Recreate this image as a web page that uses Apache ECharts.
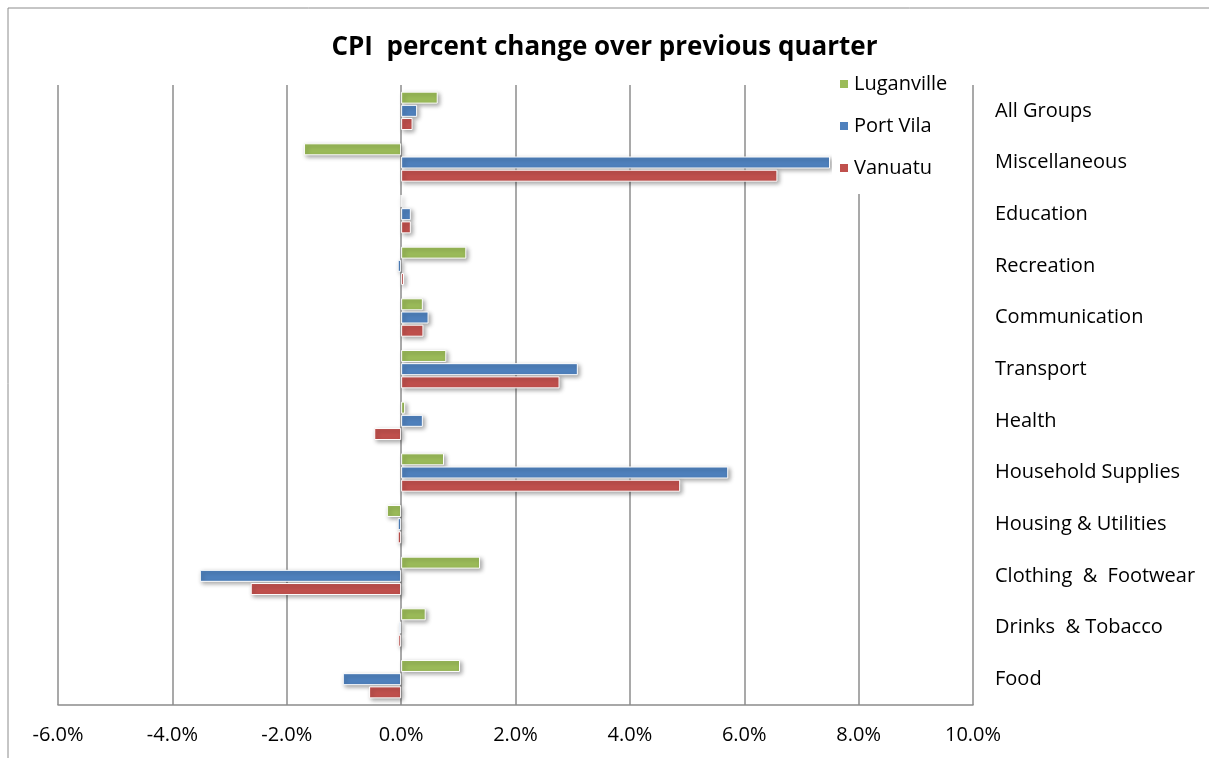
<!DOCTYPE html>
<html><head><meta charset="utf-8">
<script src="https://cdn.jsdelivr.net/npm/echarts@6/dist/echarts.min.js"></script>
<style>html,body{margin:0;padding:0;background:#fff}#c{width:1209px;height:758px}</style>
</head><body><div id="c"></div>
<script>
const categories = ["Food","Drinks  & Tobacco","Clothing  &  Footwear","Housing & Utilities","Household Supplies","Health","Transport","Communication","Recreation","Education","Miscellaneous","All Groups"];
const luganville = [1.03, 0.43, 1.38, -0.25, 0.75, 0.07, 0.79, 0.38, 1.14, 0.0, -1.70, 0.64];
const portVila   = [-1.02, -0.04, -3.52, -0.06, 5.72, 0.38, 3.09, 0.48, -0.06, 0.17, 7.50, 0.28];
const vanuatu    = [-0.56, -0.05, -2.63, -0.06, 4.88, -0.47, 2.77, 0.39, 0.05, 0.17, 6.58, 0.20];
const xTicks = [-6, -4, -2, 0, 2, 4, 6, 8, 10];

const chart = echarts.init(document.getElementById('c'));
const font = "'Open Sans', 'Noto Sans', sans-serif";
const barStyle = c => ({color: c, borderColor: '#fff', borderWidth: 1,
  shadowColor: 'rgba(0,0,0,0.35)', shadowBlur: 4, shadowOffsetX: 2, shadowOffsetY: 2});
chart.setOption({
  animation: false,
  backgroundColor: '#fff',
  graphic: [{type: 'rect', shape: {x: 8, y: 8, width: 1300, height: 900}, style: {fill: 'none', stroke: '#8c8c8c', lineWidth: 1}, z: -1}],
  title: {text: 'CPI  percent change over previous quarter', left: 'center', top: 30,
    textStyle: {fontFamily: font, fontWeight: 'bold', fontSize: 26, color: '#000'}},
  legend: {orient: 'vertical', left: 832, top: 66, itemGap: 22, itemWidth: 10, itemHeight: 10,
    icon: 'rect', backgroundColor: '#fff', padding: [8, 14, 16, 6], z: 10,
    data: ['Luganville', 'Port Vila', 'Vanuatu'],
    textStyle: {fontFamily: font, fontSize: 20, color: '#000'}},
  grid: {left: 58, right: 236, top: 85, bottom: 53},
  xAxis: {type: 'value', min: xTicks[0], max: xTicks[xTicks.length-1], interval: 2,
    axisLine: {show: true, lineStyle: {color: '#8c8c8c', width: 1.5}},
    axisTick: {show: false},
    splitLine: {show: true, lineStyle: {color: '#8c8c8c', width: 1.5}},
    axisLabel: {margin: 20, fontFamily: font, fontSize: 20, color: '#000', formatter: v => v.toFixed(1) + '%'}},
  yAxis: {type: 'category', data: categories, position: 'right',
    axisLine: {show: false}, axisTick: {show: false},
    axisLabel: {margin: 22, align: 'left', fontFamily: font, fontSize: 20, color: '#000'}},
  series: [
    {name: 'Luganville', type: 'bar', data: luganville, itemStyle: barStyle('#9BBB59'), barWidth: 12, barGap: '10%'},
    {name: 'Port Vila', type: 'bar', data: portVila, itemStyle: barStyle('#4F81BD'), barWidth: 12, barGap: '10%'},
    {name: 'Vanuatu', type: 'bar', data: vanuatu, itemStyle: barStyle('#C0504D'), barWidth: 12, barGap: '10%'}
  ]
});
</script></body></html>
